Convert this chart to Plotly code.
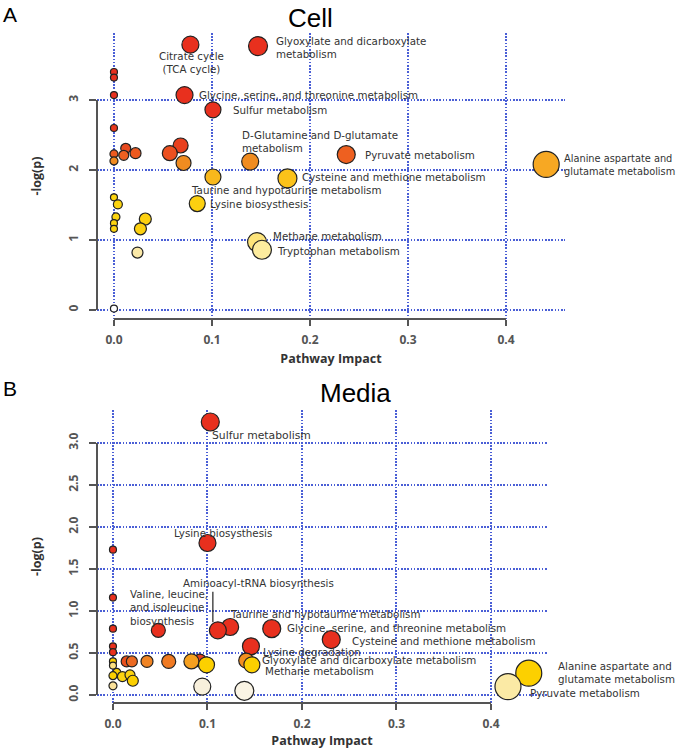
import plotly.graph_objects as go

W, H = 680, 749

# ---------------- Panel A : Cell ----------------
cell_pathway = [
    "", "", "", "",
    "Citrate cycle<br>(TCA cycle)",
    "Glyoxylate and dicarboxylate<br>metabolism",
    "Glycine, serine, and threonine metabolism",
    "Sulfur metabolism",
    "", "", "", "", "", "", "", "",
    "D-Glutamine and D-glutamate<br>metabolism",
    "Pyruvate metabolism",
    "Alanine aspartate and<br>glutamate metabolism",
    "Taurine and hypotaurine metabolism",
    "Cysteine and methione metabolism",
    "", "", "", "", "",
    "Lysine biosysthesis",
    "", "", "",
    "Methane metabolism",
    "Tryptophan metabolism",
    "",
]
cell_impact = [0.000, 0.000, 0.000, 0.000, 0.078, 0.147, 0.072, 0.101,
               0.068, 0.057, 0.071, 0.012, 0.000, 0.010, 0.022, 0.000,
               0.139, 0.237, 0.441, 0.101, 0.177,
               0.000, 0.004, 0.002, 0.000, 0.000, 0.085, 0.032, 0.027, 0.024,
               0.146, 0.151, 0.000]
cell_logp = [3.40, 3.32, 3.07, 2.60, 3.79, 3.77, 3.07, 2.86,
             2.35, 2.24, 2.10, 2.31, 2.23, 2.21, 2.24, 2.13,
             2.12, 2.22, 2.08, 1.90, 1.88,
             1.61, 1.51, 1.33, 1.24, 1.16, 1.52, 1.30, 1.16, 0.82,
             0.97, 0.86, 0.02]
cell_color = ["#e8301e", "#e8301e", "#e8301e", "#e8381e", "#e8301e", "#e8301e", "#e8301e", "#e8301e",
              "#e8401e", "#ec5020", "#f08c20", "#e84a1e", "#ec5a20", "#ee6020", "#ee5a20", "#f08a20",
              "#f08c20", "#ee6020", "#f7a823", "#f8b81c", "#fbc21a",
              "#fcd410", "#fcd410", "#fcd410", "#fcd410", "#fcd410", "#fcd010", "#fcd010", "#fcd010", "#fbe9a8",
              "#fde47a", "#fdec9e", "#ffffff"]
cell_size = [7, 7, 7, 7, 17, 19, 17, 16,
             15, 15, 15, 10, 8, 10, 11, 8,
             17, 18, 26, 16, 19,
             7, 9, 8, 7, 7, 16, 12, 12, 11,
             19, 19, 7]
# label placement (anchor, x shift px, y shift px, font size)
cell_label_pos = {
    "Citrate cycle<br>(TCA cycle)": ("center", 1, -18, 10.3),
    "Glyoxylate and dicarboxylate<br>metabolism": ("left", 16, -1, 10.3),
    "Glycine, serine, and threonine metabolism": ("left", 12, 0, 10.3),
    "Sulfur metabolism": ("left", 18, 0, 10.3),
    "D-Glutamine and D-glutamate<br>metabolism": ("left", -10, 20, 10.3),
    "Pyruvate metabolism": ("left", 17, 0, 10.3),
    "Alanine aspartate and<br>glutamate metabolism": ("left", 16, -1, 9.8),
    "Taurine and hypotaurine metabolism": ("left", -24, -13, 10.3),
    "Cysteine and methione metabolism": ("left", 13, 1, 10.3),
    "Lysine biosysthesis": ("left", 11, 0, 10.3),
    "Methane metabolism": ("left", 14, 6, 10.3),
    "Tryptophan metabolism": ("left", 13, -1, 10.3),
}

# ---------------- Panel B : Media ----------------
media_pathway = [
    "Sulfur metabolism",
    "Lysine biosysthesis",
    "", "", "", "", "",
    "Valine, leucine,<br>and isoleucine<br>biosynthesis",
    "Taurine and hypotaurine metabolism",
    "Aminoacyl-tRNA biosynthesis",
    "Glycine, serine, and threonine metabolism",
    "Cysteine and methione metabolism",
    "Lysine degradation",
    "", "", "", "", "", "", "",
    "Glyoxylate and dicarboxylate metabolism",
    "Methane metabolism",
    "", "", "", "", "", "", "", "",
    "", "",
    "Alanine aspartate and<br>glutamate metabolism",
    "Pyruvate metabolism",
]
media_impact = [0.103, 0.100, 0.000, 0.000, 0.000, 0.000, 0.000,
                0.048, 0.124, 0.111, 0.168, 0.231, 0.146,
                0.0145, 0.020, 0.036, 0.059, 0.092, 0.083, 0.099,
                0.141, 0.147,
                0.000, 0.000, 0.004, 0.000, 0.010, 0.018, 0.021, 0.000,
                0.0945, 0.139,
                0.440, 0.418]
media_logp = [3.25, 1.81, 1.73, 1.16, 0.79, 0.58, 0.51,
              0.77, 0.81, 0.77, 0.79, 0.66, 0.58,
              0.40, 0.40, 0.40, 0.40, 0.41, 0.40, 0.36,
              0.41, 0.36,
              0.40, 0.35, 0.27, 0.23, 0.22, 0.24, 0.17, 0.11,
              0.10, 0.05,
              0.26, 0.10]
media_color = ["#e8301e", "#e8301e", "#e8301e", "#e8301e", "#e8301e", "#e8301e", "#e8301e",
               "#e8301e", "#e8301e", "#e8301e", "#e8301e", "#e8301e", "#e8301e",
               "#e8501e", "#ec6a22", "#f08424", "#f07a22", "#e8401e", "#f5a020", "#fcd000",
               "#f39020", "#fcd000",
               "#fcd000", "#fce080", "#fcd000", "#fcd000", "#fcd410", "#fcd410", "#fcd000", "#fbe29a",
               "#f8f0dc", "#faf4e4",
               "#fcd000", "#fbeaa5"]
media_size = [18, 17, 7, 7, 7, 7, 7,
              14, 17, 17, 18, 18, 17,
              11, 11, 12, 14, 13, 15, 16,
              15, 16,
              7, 7, 8, 8, 10, 10, 11, 8,
              17, 19,
              26, 26]
media_label_pos = {
    "Sulfur metabolism": ("left", 0, -13, 10.8),
    "Lysine biosysthesis": ("center", 16, 10, 10.3),
    "Aminoacyl-tRNA biosynthesis": ("left", -37, 47, 10.3),
    "Valine, leucine,<br>and isoleucine<br>biosynthesis": ("left", -30, 23, 10.3),
    "Taurine and hypotaurine metabolism": ("left", -2, 13, 10.3),
    "Glycine, serine, and threonine metabolism": ("left", 13, 1, 10.3),
    "Cysteine and methione metabolism": ("left", 19, -1, 10.3),
    "Lysine degradation": ("left", 10, -6, 10.3),
    "Glyoxylate and dicarboxylate metabolism": ("left", 14, 1, 10.3),
    "Methane metabolism": ("left", 11, -6, 10.3),
    "Alanine aspartate and<br>glutamate metabolism": ("left", 27, 1, 10.3),
    "Pyruvate metabolism": ("left", 20, -6, 10.3),
}

x_ticks = [0.0, 0.1, 0.2, 0.3, 0.4]
cell_y_ticks = [0, 1, 2, 3]
media_y_ticks = [0.0, 0.5, 1.0, 1.5, 2.0, 2.5, 3.0]

GRID = "#4a5fd6"
AX = "#555555"
TICKFONT = dict(family="Open Sans", size=12, color="#555555", weight="bold")
TITLEFONT = dict(family="Open Sans", size=12.5, color="#333333", weight="bold")
LABEL_FAMILY = "DejaVu Sans"
LABEL_COLOR = "#333333"

fig = go.Figure()
fig.add_trace(go.Scatter(
    x=cell_impact, y=cell_logp, mode="markers", xaxis="x", yaxis="y",
    marker=dict(size=cell_size, color=cell_color, opacity=1,
                line=dict(color="#222222", width=1.2)),
    hoverinfo="skip", showlegend=False))
fig.add_trace(go.Scatter(
    x=media_impact, y=media_logp, mode="markers", xaxis="x2", yaxis="y2",
    marker=dict(size=media_size, color=media_color, opacity=1,
                line=dict(color="#222222", width=1.2)),
    hoverinfo="skip", showlegend=False))


def xaxis_cfg(domain, rng, anchor):
    return dict(domain=domain, range=rng, anchor=anchor,
                tickvals=x_ticks, ticktext=[f"{v:.1f}" for v in x_ticks],
                showgrid=True, gridcolor=GRID, griddash="1.6px,1.6px", gridwidth=1.8,
                zeroline=False, showline=False,
                ticks="outside", ticklen=6, tickwidth=2, tickcolor=AX,
                tickfont=TICKFONT, ticklabelstandoff=4,
                title=dict(text="Pathway Impact", font=TITLEFONT, standoff=6))


def yaxis_cfg(domain, rng, anchor, ticks, fmt):
    return dict(domain=domain, range=rng, anchor=anchor,
                tickvals=ticks, ticktext=[fmt.format(v) for v in ticks],
                tickangle=-90,
                showgrid=True, gridcolor=GRID, griddash="1.6px,1.6px", gridwidth=1.8,
                zeroline=False, showline=False,
                ticks="outside", ticklen=7, tickwidth=2, tickcolor=AX,
                tickfont=TICKFONT, ticklabelstandoff=6,
                title=dict(text="-log(p)", font=TITLEFONT, standoff=20))


fig.update_layout(
    width=W, height=H, margin=dict(l=0, r=0, t=0, b=0),
    paper_bgcolor="white", plot_bgcolor="white",
    xaxis=xaxis_cfg([97 / W, 565 / W], [-0.0173, 0.4602], "y"),
    yaxis=yaxis_cfg([(H - 319) / H, (H - 33) / H], [-0.129, 3.957], "x",
                    cell_y_ticks, "{:d}"),
    xaxis2=xaxis_cfg([97 / W, 547 / W], [-0.0169, 0.4593], "y2"),
    yaxis2=yaxis_cfg([(H - 703) / H, (H - 410) / H], [-0.095, 3.393], "x2",
                     media_y_ticks, "{:.1f}"),
)

# R-style axis lines spanning first to last tick
shapes = []
for xr, yr, yt in (("x", "y", cell_y_ticks), ("x2", "y2", media_y_ticks)):
    shapes.append(dict(type="line", xref=f"{xr} domain", yref=yr, x0=0, x1=0,
                       y0=yt[0], y1=yt[-1], line=dict(color=AX, width=2)))
    shapes.append(dict(type="line", xref=xr, yref=f"{yr} domain", y0=0, y1=0,
                       x0=x_ticks[0], x1=x_ticks[-1], line=dict(color=AX, width=2)))
fig.update_layout(shapes=shapes)

annotations = []
for names, xs, ys, pos, xr, yr in (
        (cell_pathway, cell_impact, cell_logp, cell_label_pos, "x", "y"),
        (media_pathway, media_impact, media_logp, media_label_pos, "x2", "y2")):
    for name, xv, yv in zip(names, xs, ys):
        if not name:
            continue
        anchor, dx, dy, fs = pos[name]
        annotations.append(dict(
            x=xv, y=yv, xref=xr, yref=yr, text=name, showarrow=False,
            xanchor=anchor, yanchor="middle", xshift=dx, yshift=dy,
            align=anchor, font=dict(family=LABEL_FAMILY, size=fs, color=LABEL_COLOR)))

# leader line for Aminoacyl-tRNA biosynthesis
i_amino = media_pathway.index("Aminoacyl-tRNA biosynthesis")
annotations.append(dict(
    x=media_impact[i_amino], y=media_logp[i_amino], xref="x2", yref="y2",
    text="", showarrow=True, arrowhead=0, arrowwidth=1.3, arrowcolor="#333333",
    ax=0, ay=-32, standoff=0, startstandoff=0, xshift=-5, yshift=8))

# panel titles and letters
for txt, px, py, size in (("Cell", 310, 18, 26), ("Media", 355, 393, 26),
                          ("A", 10, 14, 21), ("B", 10, 388, 21)):
    annotations.append(dict(
        x=px / W, y=1 - py / H, xref="paper", yref="paper", text=txt,
        showarrow=False, xanchor="center", yanchor="middle",
        font=dict(family="Liberation Sans", size=size, color="black")))

fig.update_layout(annotations=annotations)

fig.write_html("out.html", config={"displayModeBar": False},
               post_script="document.body.style.margin='0';document.body.style.overflow='hidden';")
